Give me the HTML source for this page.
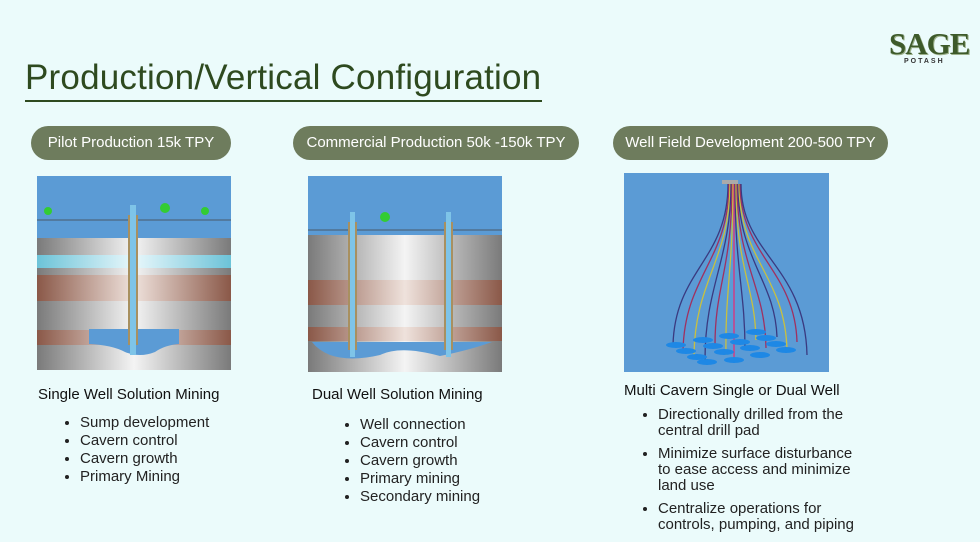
<!DOCTYPE html>
<html><head><meta charset="utf-8"><style>
body{margin:0;width:980px;height:542px;background:#ebfbfb;position:relative;overflow:hidden;font-family:"Liberation Sans",sans-serif}
.t{position:absolute;left:25px;top:58px;font-size:35px;letter-spacing:.2px;color:#2e4a1f;}
.ul{position:absolute;left:25px;top:100px;width:517px;height:2px;background:#2e4a1f}
.pill{position:absolute;height:34px;border-radius:17px;background:#6e7c5d;color:#fff;font-size:15px;line-height:34px;text-align:center}
.h{position:absolute;font-size:15px;color:#111}
ul{position:absolute;margin:0;padding-left:18px;font-size:15px;color:#222;line-height:18px}
.logo{position:absolute;left:889px;top:26px;font-family:"Liberation Serif",serif;font-weight:bold;font-size:31px;color:#3d5a2a;letter-spacing:-1px;text-shadow:1px 1px 0 #9bb08a}
.pot{position:absolute;left:904px;top:58px;font-size:7px;letter-spacing:2px;color:#333;font-weight:bold}
</style></head><body>
<div class="logo">SAGE</div><div class="pot">POTASH</div>
<div class="t">Production/Vertical Configuration</div><div class="ul"></div>
<div class="pill" style="left:31px;top:126px;width:200px">Pilot Production 15k TPY</div>
<div class="pill" style="left:293px;top:126px;width:286px">Commercial Production 50k -150k TPY</div>
<div class="pill" style="left:613px;top:126px;width:275px">Well Field Development 200-500 TPY</div>
<svg style="position:absolute;left:0;top:0" width="980" height="542">
<defs>
<linearGradient id="g" x1="0" x2="1"><stop offset="0" stop-color="#7a7a7a"/><stop offset=".5" stop-color="#f4f4f4"/><stop offset="1" stop-color="#7a7a7a"/></linearGradient>
<linearGradient id="b" x1="0" x2="1"><stop offset="0" stop-color="#8a5848"/><stop offset=".5" stop-color="#efe2dc"/><stop offset="1" stop-color="#8a5848"/></linearGradient>
<linearGradient id="c" x1="0" x2="1"><stop offset="0" stop-color="#6cc3d8"/><stop offset=".5" stop-color="#e8f7fb"/><stop offset="1" stop-color="#6cc3d8"/></linearGradient>
</defs>
<!-- img1 -->
<rect x="37" y="176" width="194" height="194" fill="#5b9bd5"/>
<rect x="37" y="238" width="194" height="132" fill="url(#g)"/>
<rect x="37" y="255" width="194" height="13" fill="url(#c)"/>
<rect x="37" y="275" width="194" height="26" fill="url(#b)"/>
<rect x="37" y="330" width="194" height="15" fill="url(#b)"/>
<line x1="37" y1="220" x2="231" y2="220" stroke="#444" stroke-width=".7"/>
<path d="M89 329H179V344Q165 345 155 352Q140 358 125 352Q112 345 89 344Z" fill="#5b9bd5"/>
<rect x="128" y="215" width="10" height="130" fill="#a89060"/><rect x="130" y="205" width="6" height="150" fill="#7ec4e8"/>
<circle cx="48" cy="211" r="4" fill="#3c3"/><circle cx="165" cy="208" r="5" fill="#3c3"/><circle cx="205" cy="211" r="4" fill="#3c3"/>
<!-- img2 -->
<rect x="308" y="176" width="194" height="196" fill="#5b9bd5"/>
<rect x="308" y="235" width="194" height="137" fill="url(#g)"/>
<rect x="308" y="260" width="194" height="12" fill="url(#g)"/>
<rect x="308" y="280" width="194" height="25" fill="url(#b)"/>
<rect x="308" y="327" width="194" height="14" fill="url(#b)"/>
<line x1="308" y1="230" x2="502" y2="230" stroke="#444" stroke-width=".7"/>
<path d="M312 342H492Q470 350 440 356Q400 345 380 355Q350 362 330 355Q318 350 312 342Z" fill="#5b9bd5"/>
<rect x="348" y="222" width="9" height="128" fill="#a89060"/><rect x="350" y="212" width="5" height="145" fill="#7ec4e8"/>
<rect x="444" y="222" width="9" height="128" fill="#a89060"/><rect x="446" y="212" width="5" height="145" fill="#7ec4e8"/>
<circle cx="385" cy="217" r="5" fill="#3c3"/>
<!-- img3 -->
<rect x="624" y="173" width="205" height="199" fill="#5b9bd5"/>
<rect x="722" y="180" width="16" height="4" fill="#aaa"/>
<g fill="none" stroke-width="1.3">
<path d="M728 184C728 260 675 270 673 345" stroke="#3a3a80"/>
<path d="M729 184C729 260 685 275 683 350" stroke="#a03060"/>
<path d="M730 184C730 260 695 280 694 355" stroke="#c8c040"/>
<path d="M731 184C731 260 705 285 705 360" stroke="#3a3a80"/>
<path d="M732 184C732 270 715 285 715 345" stroke="#a03060"/>
<path d="M733 184C733 270 725 290 726 355" stroke="#c8c040"/>
<path d="M734 184V360" stroke="#e0307a"/>
<path d="M735 184C735 270 745 290 745 350" stroke="#3a3a80"/>
<path d="M736 184C736 270 755 285 756 340" stroke="#c8c040"/>
<path d="M737 184C737 265 765 285 766 348" stroke="#a03060"/>
<path d="M738 184C738 260 775 280 777 337" stroke="#3a3a80"/>
<path d="M739 184C739 260 785 275 787 350" stroke="#c8c040"/>
<path d="M740 184C740 255 795 270 797 342" stroke="#a03060"/>
<path d="M741 184C741 255 805 265 807 355" stroke="#3a3a80"/>
</g>
<g fill="#1e88e5">
<ellipse cx="676" cy="345" rx="10" ry="3"/><ellipse cx="686" cy="351" rx="10" ry="3"/><ellipse cx="697" cy="357" rx="10" ry="3"/><ellipse cx="707" cy="362" rx="10" ry="3"/>
<ellipse cx="703" cy="340" rx="10" ry="3"/><ellipse cx="713" cy="346" rx="10" ry="3"/><ellipse cx="724" cy="352" rx="10" ry="3"/><ellipse cx="734" cy="360" rx="10" ry="3"/>
<ellipse cx="729" cy="336" rx="10" ry="3"/><ellipse cx="740" cy="342" rx="10" ry="3"/><ellipse cx="750" cy="348" rx="10" ry="3"/><ellipse cx="760" cy="355" rx="10" ry="3"/>
<ellipse cx="756" cy="332" rx="10" ry="3"/><ellipse cx="766" cy="338" rx="10" ry="3"/><ellipse cx="776" cy="344" rx="10" ry="3"/><ellipse cx="786" cy="350" rx="10" ry="3"/>
</g>
</svg>
<div class="h" style="left:38px;top:386px">Single Well Solution Mining</div>
<ul style="left:62px;top:414px"><li>Sump development</li><li>Cavern control</li><li>Cavern growth</li><li>Primary Mining</li></ul>
<div class="h" style="left:312px;top:386px">Dual Well Solution Mining</div>
<ul style="left:342px;top:416px"><li>Well connection</li><li>Cavern control</li><li>Cavern growth</li><li>Primary mining</li><li>Secondary mining</li></ul>
<div class="h" style="left:624px;top:382px">Multi Cavern Single or Dual Well</div>
<ul style="left:640px;top:407px;width:200px;line-height:16px"><li style="margin-bottom:7px">Directionally drilled from the central drill pad</li><li style="margin-bottom:7px">Minimize surface disturbance to ease access and minimize land use</li><li>Centralize operations for controls, pumping, and piping</li></ul>
</body></html>
